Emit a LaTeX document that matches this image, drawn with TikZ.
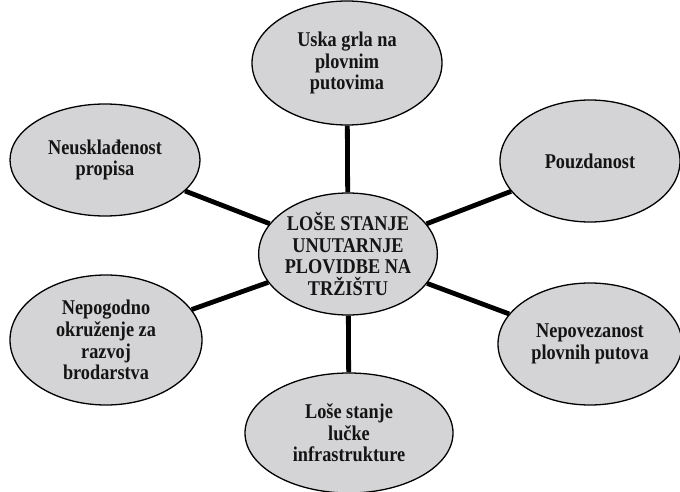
\documentclass[tikz,border=0pt]{standalone}
\usepackage{fontspec}
\setmainfont{Liberation Serif}[FakeStretch=0.87]
\usetikzlibrary{shapes.geometric}
\definecolor{bubblegray}{RGB}{212,212,214}
\begin{document}
\begin{tikzpicture}[x=1pt,y=-1pt,
		bubble/.style={ellipse, draw=black, line width=1.3pt, fill=bubblegray, inner sep=0pt, align=center, text=black!92, font=\fontsize{21}{21.7}\selectfont\bfseries},
		spoke/.style={line width=4.8pt, black}]
		\useasboundingbox (0,0) rectangle (680,492);

		\node[bubble, minimum width=172pt, minimum height=122pt] (core) at (348,254) {LOŠE STANJE\\UNUTARNJE\\PLOVIDBE NA\\TRŽIŠTU};

		\node[bubble, minimum width=190pt, minimum height=124pt] (top) at (347,63) {Uska grla na\\plovnim\\putovima};
		\node[bubble, minimum width=190pt, minimum height=112pt] (ul) at (105,160) {Neusklađenost\\propisa};
		\node[bubble, minimum width=180pt, minimum height=122pt] (ur) at (590,161) {Pouzdanost};
		\node[bubble, minimum width=184pt, minimum height=122pt] (lr) at (590,344) {Nepovezanost\\plovnih putova};
		\node[bubble, minimum width=192pt, minimum height=130pt] (ll) at (106,340) {Nepogodno\\okruženje za\\razvoj\\brodarstva};
		\node[bubble, minimum width=208pt, minimum height=120pt] (bot) at (349,433) {Loše stanje\\lučke\\infrastrukture};

		\draw[spoke] (core) -- (top);
		\draw[spoke] (core) -- (ul);
		\draw[spoke] (core) -- (ur);
		\draw[spoke] (core) -- (lr);
		\draw[spoke] (core) -- (ll);
		\draw[spoke] (core) -- (bot);
	\end{tikzpicture}
\end{document}
